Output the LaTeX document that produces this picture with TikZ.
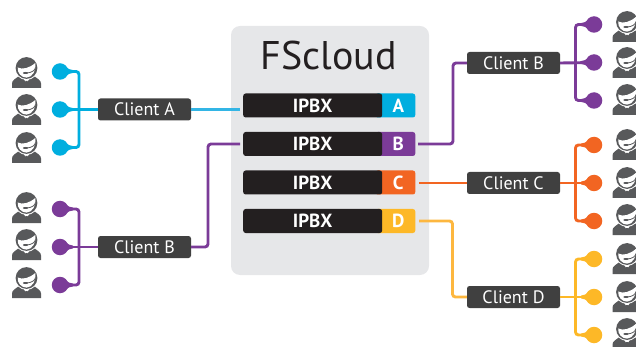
\documentclass[tikz,border=0pt]{standalone}
\usepackage{fontspec}
\setmainfont{PT Sans}
\definecolor{cA}{HTML}{00AEDF}
\definecolor{cAl}{HTML}{33B5E5}
\definecolor{cB}{HTML}{7B3B98}
\definecolor{cC}{HTML}{F26522}
\definecolor{cD}{HTML}{FDB827}
\definecolor{cDl}{HTML}{FDB73F}
\definecolor{panel}{HTML}{E6E7E9}
\definecolor{boxdark}{HTML}{404040}
\definecolor{bar}{HTML}{231F20}
\definecolor{icon}{HTML}{58595B}
\tikzset{
  x=1pt,y=-1pt,
  client/.style={fill=boxdark,rounded corners=2.5pt,minimum width=93pt,minimum height=22pt,inner sep=0pt,text=white,font=\fontsize{18}{19}\selectfont},
  ipbx/.style={fill=bar,rounded corners=2.5pt,minimum height=24pt,inner sep=0pt,text=white,font=\fontsize{19}{20}\selectfont\bfseries},
  tag/.style={rounded corners=2.5pt,minimum width=40pt,minimum height=24pt,inner sep=0pt,text=white,font=\fontsize{19}{20}\selectfont\bfseries},
  wire/.style={line width=2.9pt,rounded corners=3pt},
  dot/.style={circle,minimum size=16.5pt,inner sep=0pt},
  pics/agent/.style={code={
    % body
    \fill[icon] (-14.5,30) -- (-14.5,25.5) .. controls (-14.5,22) and (-11,21) .. (-7,17.5) -- (7,17.5) .. controls (11,21) and (14.5,22) .. (14.5,25.5) -- (14.5,30) -- cycle;
    % head
    \fill[white] (0,10) circle[radius=11.9];
    \fill[white] (-3.5,20) -- (0,25) -- (3.5,20) -- cycle;
    \fill[icon] (-1.2,23) -- (1.2,23) -- (1.6,29) -- (-1.6,29) -- cycle;
    \fill[icon] (0,10) circle[radius=10.9];
    % face
    \fill[white] (-8.8,9.5) .. controls (-4,12) and (3,10) .. (8.8,5) .. controls (10,12) and (6,19.6) .. (0,19.6) .. controls (-5,19.6) and (-9.4,15) .. (-8.8,9.5) -- cycle;
    % headset
    \draw[icon,line width=.8pt] (9,9.5) .. controls (8.6,12.5) and (5,14.8) .. (0,15);
    \fill[icon] (-1,15) ellipse[x radius=2.6,y radius=1];
  }}
}
\begin{document}
\begin{tikzpicture}
\useasboundingbox (0,0) rectangle (636,347);
% panel
\fill[panel,rounded corners=9pt] (231,26) rectangle (429,275);
\node[font=\fontsize{40}{41}\selectfont,text=bar,anchor=center] (title) at (328.5,56) {FScloud};
% IPBX rows
\foreach \n/\y/\c/\l in {a/105.5/cA/A,b/144/cB/B,c/182.5/cC/C,d/221/cD/D}{
  \node[tag,fill=\c,anchor=east] (t\n) at (415.5,\y) {\hspace*{6pt}\l};
  \node[ipbx,anchor=west,minimum width=139pt] (i\n) at (243,\y) {IPBX};
}
% client boxes
\node[client] (ca) at (144.5,109.5) {Client A};
\node[client] (cb) at (144.5,247) {Client B};
\node[client] (rb) at (513.5,63) {Client B};
\node[client] (rc) at (513.5,183) {Client C};
\node[client] (rd) at (513.5,297) {Client D};
% dots with a small neck toward the wire
\foreach \n/\x/\y/\c/\s in {a1/60/71.5/cA/1,a2/60/109.5/cA/1,a3/60/147.5/cA/1,b1/60/209/cB/1,b2/60/247/cB/1,b3/60/285/cB/1,
  p1/594/24.5/cB/-1,p2/594/62.5/cB/-1,p3/594/100.5/cB/-1,q1/594/145/cC/-1,q2/594/183/cC/-1,q3/594/221/cC/-1,r1/594/259/cD/-1,r2/594/297/cD/-1,r3/594/335/cD/-1}{
  \node[dot,fill=\c] (\n) at (\x,\y) {};
  \fill[\c] (\x+\s*5,\y-6) .. controls (\x+\s*8,\y-2.5) and (\x+\s*10,\y-1.4) .. (\x+\s*13,\y-1.4) -- (\x+\s*13,\y+1.4) .. controls (\x+\s*10,\y+1.4) and (\x+\s*8,\y+2.5) .. (\x+\s*5,\y+6) -- cycle;
}
% free ends at the IPBX rows
\coordinate (ea) at (240,109.5);
\coordinate (eb) at (240,144);
\coordinate (xb) at (418,144);
\coordinate (xc) at (419,183);
\coordinate (xd) at (419,221);
% connectors
\draw[wire,cA] (ca.west) -- (a2);
\draw[wire,cA] (a1) -- (79,71.5) -- (79,147.5) -- (a3);
\draw[wire,cAl] (ca.east) -- (ea);
\draw[wire,cB] (cb.west) -- (b2);
\draw[wire,cB] (b1) -- (79,209) -- (79,285) -- (b3);
\draw[wire,cB] (cb.east) -- (208,247) -- (208,144) -- (eb);
\draw[wire,cB] (xb) -- (453,144) -- (453,63) -- (rb.west);
\draw[wire,cB] (rb.east) -- (p2);
\draw[wire,cB] (p1) -- (575.5,24.5) -- (575.5,100.5) -- (p3);
\draw[wire,cC] (xc) -- (rc.west);
\draw[wire,cC] (rc.east) -- (q2);
\draw[wire,cC] (q1) -- (575.5,145) -- (575.5,221) -- (q3);
\draw[wire,cDl] (xd) -- (452.5,221) -- (452.5,297) -- (rd.west);
\draw[wire,cD] (rd.east) -- (r2);
\draw[wire,cD] (r1) -- (575.5,259) -- (575.5,335) -- (r3);
% agents
\foreach \x/\y in {26.5/58,26.5/95,26.5/133,26.5/193,26.5/230,26.5/268,
  627/12,627/48,627/85,627/130,627/168,627/205,627/244,627/282,627/319}{
  \pic at (\x,\y) {agent};
}
\end{tikzpicture}
\end{document}
